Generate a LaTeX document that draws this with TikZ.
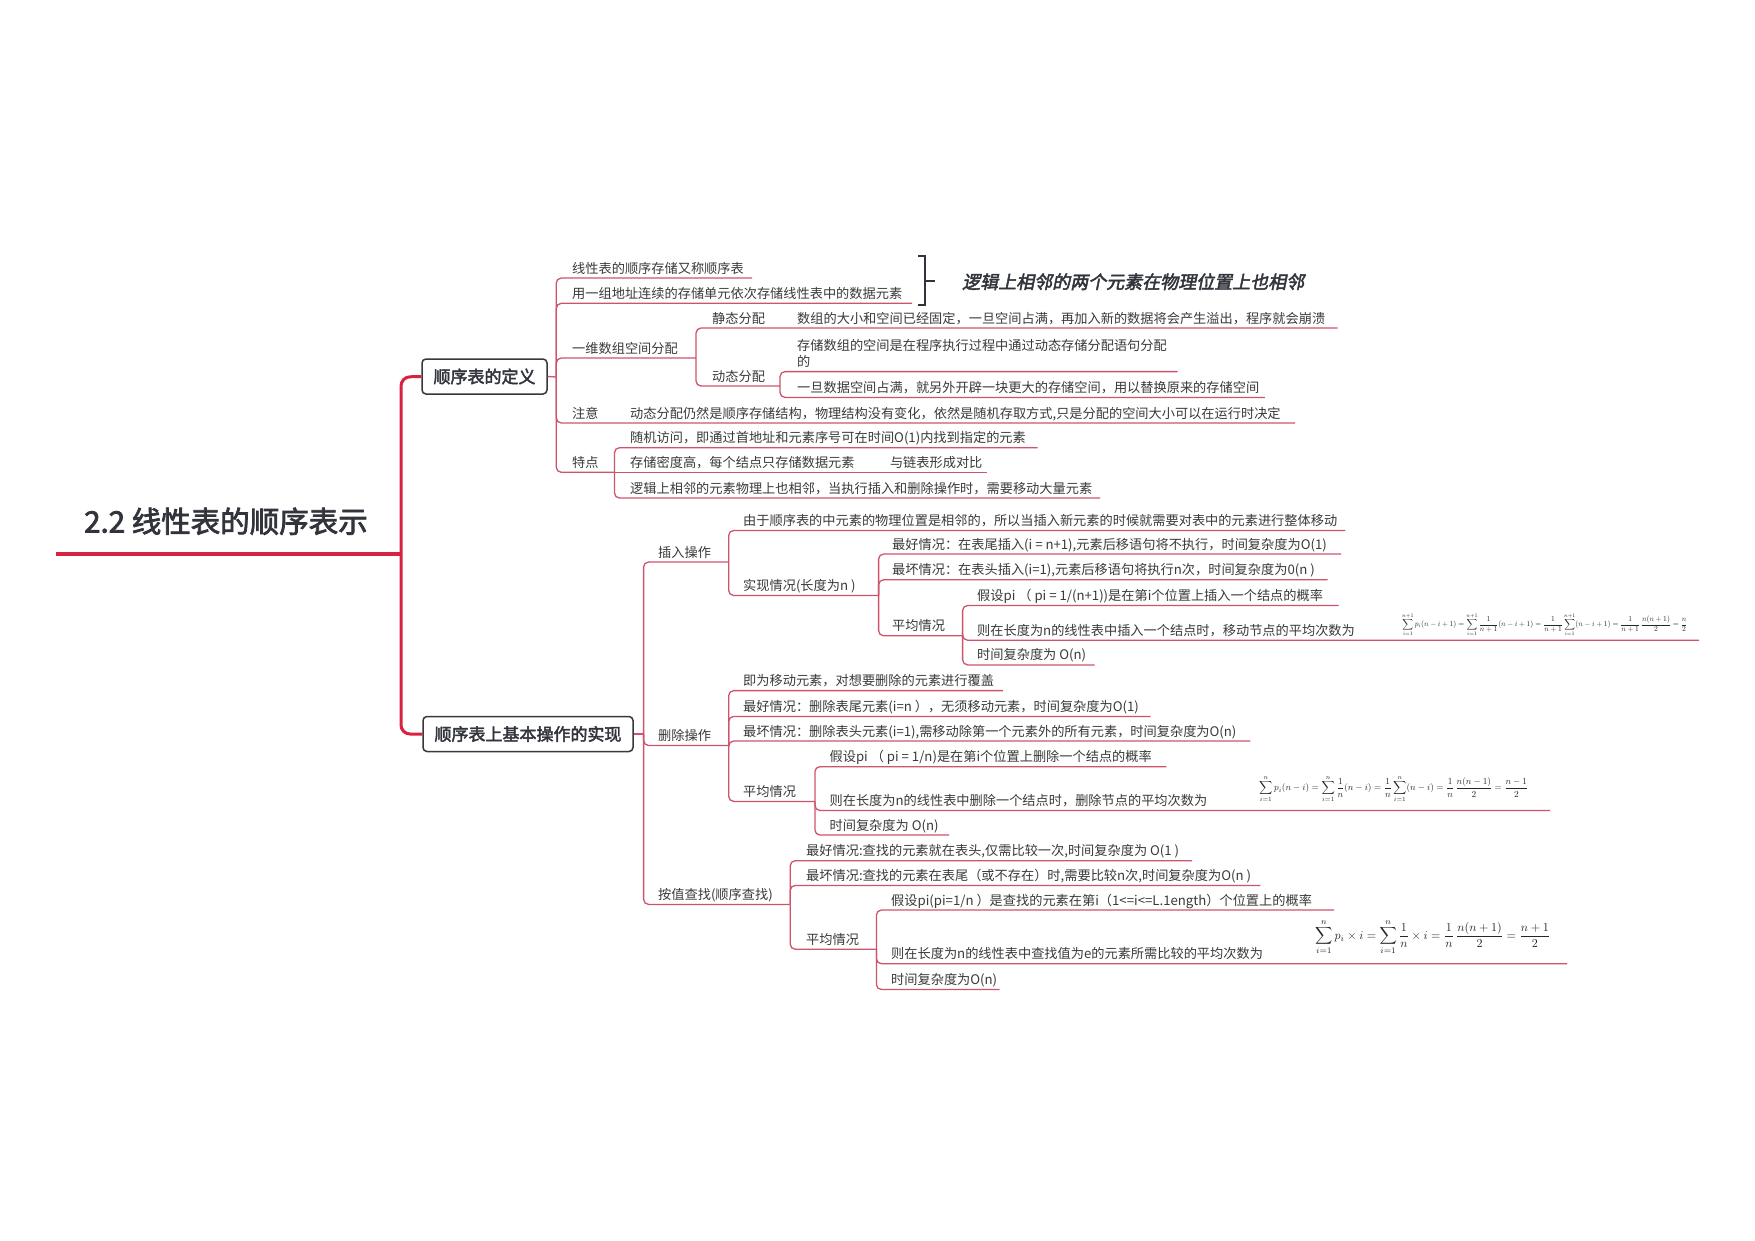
\documentclass[tikz,border=0pt]{standalone}
\usepackage{fontspec}
\setmainfont{Noto Sans CJK SC}[AutoFakeBold=2.5,AutoFakeSlant=0.2]
\usepackage{graphicx}
\definecolor{mainred}{RGB}{214,36,64}
\definecolor{linered}{RGB}{206,84,108}
\definecolor{txtgray}{RGB}{58,58,58}
\definecolor{boxgray}{RGB}{55,55,60}
\definecolor{titlegray}{RGB}{50,52,60}
\tikzset{
  lbl/.style={anchor=base west, inner sep=0pt, text=txtgray, font=\fontsize{13.2}{15}\selectfont},
  conn/.style={draw=linered, line width=1.3pt, rounded corners=5pt},
  mainconn/.style={draw=mainred, line width=3pt, rounded corners=9pt},
  topic/.style={draw=boxgray, line width=1.5pt, rounded corners=4pt, fill=white, text=titlegray,
    font=\bfseries\fontsize{17}{20}\selectfont, inner xsep=11.5pt, inner ysep=0pt, minimum height=35pt},
  brk/.style={draw=titlegray, line width=2.6pt},
  formula/.style={anchor=west, inner sep=0pt, text=black!85}
}
\begin{document}
\begin{tikzpicture}[x=1pt,y=-1pt]
\useasboundingbox[fill=white] (0,0) rectangle (1755,1240);

% central topic
\node[anchor=base west, inner sep=0pt, text=titlegray, font=\bfseries\fontsize{29.5}{33}\selectfont] (title) at (84,532.5) {2.2 线性表的顺序表示};
\coordinate (tl) at (56,554);
\coordinate (hub) at (401,554);
\draw[mainred, line width=4pt] (tl) -- (hub);

\node[topic] (box1) at (484.5,376.5) {顺序表的定义};
\node[topic] (box2) at (528,734) {顺序表上基本操作的实现};
\draw[mainconn] (box1.west) -- (401,377) -- (401,734) -- (box2.west);

% ---------- box 1 ----------
\coordinate (b1) at (556.3,377);
\draw[conn] (box1.east) -- (b1);
\draw[conn] (b1) |- (752,278);
\draw[conn] (b1) |- (912,303.3);
\draw[conn] (b1) |- (696,358);
\draw[conn] (b1) |- (1295,423);
\draw[conn] (b1) |- (614.5,472.3);
\node[lbl] (d1) at (572,273) {线性表的顺序存储又称顺序表};
\node[lbl] (d2) at (572,298.3) {用一组地址连续的存储单元依次存储线性表中的数据元素};
\node[lbl] (d3) at (572,353) {一维数组空间分配};
\node[lbl] (d4) at (572,418) {注意};
\node[lbl] (d5) at (572,467.3) {特点};

% bracket summary
\coordinate (bk1) at (918,256);
\coordinate (bk2) at (925,256);
\coordinate (bk3) at (925,305);
\coordinate (bk4) at (918,305);
\coordinate (bkm) at (925,281);
\coordinate (bkt) at (935,281);
\draw[brk] (bk1) -- (bk2) -- (bk3) -- (bk4);
\draw[brk] (bkm) -- (bkt);
\node[anchor=west, inner sep=0pt, text=titlegray, font=\bfseries\itshape\fontsize{18}{20}\selectfont] (sum) at (962,281.7) {逻辑上相邻的两个元素在物理位置上也相邻};

% 一维数组空间分配
\coordinate (b13) at (696,358);
\draw[conn] (b13) |- (1337.6,328);
\draw[conn] (b13) |- (780,386);
\node[lbl] (s1) at (712,323) {静态分配};
\node[lbl] (s1c) at (797,323) {数组的大小和空间已经固定，一旦空间占满，再加入新的数据将会产生溢出，程序就会崩溃};
\node[lbl] (s2) at (712,381) {动态分配};
\coordinate (b132) at (780,386);
\draw[conn] (b132) |- (1177.5,371.6);
\draw[conn] (b132) |- (1264.8,397.4);
\node[lbl] (s2a) at (797,350) {存储数组的空间是在程序执行过程中通过动态存储分配语句分配};
\node[lbl] (s2a2) at (797,366.6) {的};
\node[lbl] (s2b) at (797,392.4) {一旦数据空间占满，就另外开辟一块更大的存储空间，用以替换原来的存储空间};

% 注意
\node[lbl] (n1) at (630,418) {动态分配仍然是顺序存储结构，物理结构没有变化，依然是随机存取方式,只是分配的空间大小可以在运行时决定};

% 特点
\coordinate (b15) at (614.5,472.3);
\draw[conn] (b15) |- (1037.6,447.7);
\draw[conn] (b15) -- (987,472.3);
\draw[conn] (b15) |- (1100,498);
\node[lbl] (t1) at (630,442.7) {随机访问，即通过首地址和元素序号可在时间O(1)内找到指定的元素};
\node[lbl] (t2) at (630,467.3) {存储密度高，每个结点只存储数据元素};
\node[lbl] (t2c) at (889.8,467.3) {与链表形成对比};
\node[lbl] (t3) at (630,493) {逻辑上相邻的元素物理上也相邻，当执行插入和删除操作时，需要移动大量元素};

% ---------- box 2 ----------
\coordinate (b2) at (643.6,734);
\draw[conn] (box2.east) -- (b2);
\draw[conn] (b2) |- (728.7,562);
\draw[conn] (b2) |- (728.7,745.5);
\draw[conn] (b2) |- (790.2,904.4);
\node[lbl] (op1) at (658,557) {插入操作};
\node[lbl] (op2) at (658,740.5) {删除操作};
\node[lbl] (op3) at (658,899.4) {按值查找(顺序查找)};

% 插入操作
\coordinate (bi) at (728.7,562);
\draw[conn] (bi) |- (1345.4,530.5);
\draw[conn] (bi) |- (878.6,595.5);
\node[lbl] (i1) at (743,525.5) {由于顺序表的中元素的物理位置是相邻的，所以当插入新元素的时候就需要对表中的元素进行整体移动};
\node[lbl] (i2) at (743,590.5) {实现情况(长度为n )};
\coordinate (bi2) at (878.6,595.5);
\draw[conn] (bi2) |- (1341,554);
\draw[conn] (bi2) |- (1327.5,579.8);
\draw[conn] (bi2) |- (962.6,635.8);
\node[lbl] (i21) at (892,549) {最好情况：在表尾插入(i = n+1),元素后移语句将不执行，时间复杂度为O(1)};
\node[lbl] (i22) at (892,574.8) {最坏情况：在表头插入(i=1),元素后移语句将执行n次，时间复杂度为0(n )};
\node[lbl] (i23) at (892,630.8) {平均情况};
\coordinate (bi23) at (962.6,635.8);
\draw[conn] (bi23) |- (1338.7,605.5);
\draw[conn] (bi23) |- (1699,640.2);
\draw[conn] (bi23) |- (1094.7,664.9);
\node[lbl] (ia1) at (977,600.5) {假设pi （ pi = 1/(n+1))是在第i个位置上插入一个结点的概率};
\node[lbl] (ia2) at (977,635.2) {则在长度为n的线性表中插入一个结点时，移动节点的平均次数为};
\node[lbl] (ia3) at (977,659.9) {时间复杂度为 O(n)};
\node[formula] (fi) at (1402,624.6) {\resizebox{285pt}{!}{$\displaystyle\sum_{i=1}^{n+1}p_i(n-i+1)=\sum_{i=1}^{n+1}\frac{1}{n+1}(n-i+1)=\frac{1}{n+1}\sum_{i=1}^{n+1}(n-i+1)=\frac{1}{n+1}\,\frac{n(n+1)}{2}=\frac{n}{2}$}};

% 删除操作
\coordinate (bd) at (728.7,745.5);
\draw[conn] (bd) |- (1002.9,690.6);
\draw[conn] (bd) |- (1150.6,716.4);
\draw[conn] (bd) |- (1250.3,741);
\draw[conn] (bd) |- (814.9,801.4);
\node[lbl] (e1) at (743,685.6) {即为移动元素，对想要删除的元素进行覆盖};
\node[lbl] (e2) at (743,711.4) {最好情况：删除表尾元素(i=n ），无须移动元素，时间复杂度为O(1)};
\node[lbl] (e3) at (743,736) {最坏情况：删除表头元素(i=1),需移动除第一个元素外的所有元素，时间复杂度为O(n)};
\node[lbl] (e4) at (743,796.4) {平均情况};
\coordinate (bd4) at (814.9,801.4);
\draw[conn] (bd4) |- (1166.3,766.7);
\draw[conn] (bd4) |- (1550,810.4);
\draw[conn] (bd4) |- (949.2,835);
\node[lbl] (ea1) at (829.4,761.7) {假设pi （ pi = 1/n)是在第i个位置上删除一个结点的概率};
\node[lbl] (ea2) at (829.4,805.4) {则在长度为n的线性表中删除一个结点时，删除节点的平均次数为};
\node[lbl] (ea3) at (829.4,830) {时间复杂度为 O(n)};
\node[formula] (fd) at (1259,789) {\resizebox{269pt}{!}{$\displaystyle\sum_{i=1}^{n}p_i(n-i)=\sum_{i=1}^{n}\frac{1}{n}(n-i)=\frac{1}{n}\sum_{i=1}^{n}(n-i)=\frac{1}{n}\,\frac{n(n-1)}{2}=\frac{n-1}{2}$}};

% 按值查找
\coordinate (bs) at (790.2,904.4);
\draw[conn] (bs) |- (1192,860.7);
\draw[conn] (bs) |- (1260.3,885.4);
\draw[conn] (bs) |- (876.4,949.2);
\node[lbl] (f1) at (806,855.7) {最好情况:查找的元素就在表头,仅需比较一次,时间复杂度为 O(1 )};
\node[lbl] (f2) at (806,880.4) {最坏情况:查找的元素在表尾（或不存在）时,需要比较n次,时间复杂度为O(n )};
\node[lbl] (f3) at (806,944.2) {平均情况};
\coordinate (bs3) at (876.4,949.2);
\draw[conn] (bs3) |- (1334.2,910);
\draw[conn] (bs3) |- (1567,963.7);
\draw[conn] (bs3) |- (999.5,989.5);
\node[lbl] (fa1) at (891,905) {假设pi(pi=1/n ）是查找的元素在第i（1<=i<=L.1ength）个位置上的概率};
\node[lbl] (fa2) at (891,958.7) {则在长度为n的线性表中查找值为e的元素所需比较的平均次数为};
\node[lbl] (fa3) at (891,984.5) {时间复杂度为O(n)};
\node[formula] (fs) at (1315,937) {\resizebox{235pt}{!}{$\displaystyle\sum_{i=1}^{n}p_i\times i=\sum_{i=1}^{n}\frac{1}{n}\times i=\frac{1}{n}\,\frac{n(n+1)}{2}=\frac{n+1}{2}$}};
\end{tikzpicture}
\end{document}
